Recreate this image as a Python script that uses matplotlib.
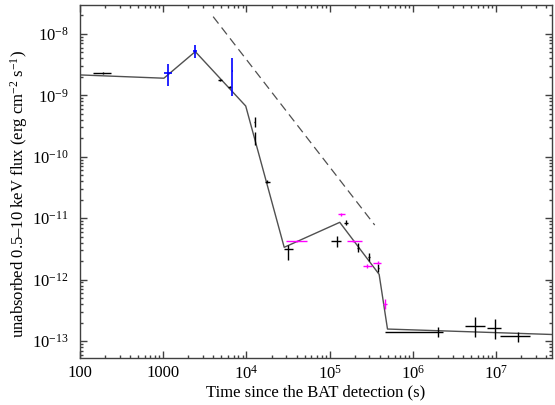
import matplotlib
matplotlib.use("Agg")
import matplotlib.pyplot as plt
import numpy as np
from matplotlib.ticker import FixedLocator, FixedFormatter, LogLocator, NullFormatter

plt.rcParams['font.family'] = 'Liberation Serif'
plt.rcParams['mathtext.fontset'] = 'custom'
plt.rcParams['mathtext.rm'] = 'Liberation Serif'
plt.rcParams['mathtext.it'] = 'Liberation Serif:italic'
plt.rcParams['axes.unicode_minus'] = True

# black points: time, x-err low/high edge, flux, y-err low/high edge
blk_t = [188, 4770, 6300, 12500, 12600, 17700, 31800, 1.21e5, 1.59e5, 2.16e5, 2.98e5, 3.85e5, 2.0e6, 5.6e6, 9.6e6, 1.83e7]
blk_tlo = [145, 4500, 6000, 12400, 12500, 16500, 28100, 1.03e5, 1.5e5, 2.1e5, 2.9e5, 3.75e5, 4.6e5, 4.19e6, 7.7e6, 1.12e7]
blk_thi = [234, 5050, 6600, 12600, 12700, 19000, 36100, 1.36e5, 1.68e5, 2.22e5, 3.06e5, 3.95e5, 2.3e6, 7.28e6, 1.15e7, 2.57e7]
blk_f = [2.29e-9, 1.78e-9, 1.39e-9, 3.73e-10, 1.88e-10, 3.94e-11, 3.11e-12, 4.26e-12, 8.46e-12, 3.31e-12, 2.36e-12, 1.55e-12, 1.4e-13, 1.75e-13, 1.61e-13, 1.2e-13]
blk_flo = [2.2e-9, 1.72e-9, 1.34e-9, 3.09e-10, 1.56e-10, 3.7e-11, 2.09e-12, 3.44e-12, 7.8e-12, 2.84e-12, 2.01e-12, 1.35e-12, 1.17e-13, 1.15e-13, 1.07e-13, 0.98e-13]
blk_fhi = [2.38e-9, 1.84e-9, 1.44e-9, 4.5e-10, 2.56e-10, 4.2e-11, 3.67e-12, 5.13e-12, 9.2e-12, 3.9e-12, 2.74e-12, 1.8e-12, 1.71e-13, 2.43e-13, 2.25e-13, 1.42e-13]

# blue points
blu_t = [1127, 2430, 6780]
blu_tlo = [1010, 2250, 6700]
blu_thi = [1270, 2560, 6860]
blu_f = [2.29e-9, 5.34e-9, 2.52e-9]
blu_flo = [1.44e-9, 4.02e-9, 9.8e-10]
blu_fhi = [3.21e-9, 6.62e-9, 4.02e-9]

# magenta points
mag_t = [40800, 1.36e5, 1.91e5, 2.84e5, 3.82e5, 4.63e5]
mag_tlo = [29500, 1.24e5, 1.6e5, 2.5e5, 3.27e5, 4.4e5]
mag_thi = [53800, 1.53e5, 2.43e5, 3.2e5, 4.18e5, 4.85e5]
mag_f = [4.26e-12, 1.16e-11, 4.26e-12, 1.68e-12, 1.88e-12, 4.0e-13]
mag_flo = [4.1e-12, 1.1e-11, 4.1e-12, 1.55e-12, 1.78e-12, 3.28e-13]
mag_fhi = [4.4e-12, 1.22e-11, 4.4e-12, 1.82e-12, 1.98e-12, 4.77e-13]

# broken power-law model
mod_t = [100, 1020, 2430, 9800, 28400, 1.32e5, 3.92e5, 4.94e5, 4.7e7]
mod_f = [2.15e-9, 1.9e-9, 5.15e-9, 6.7e-10, 3.36e-12, 8.57e-12, 1.22e-12, 1.57e-13, 1.28e-13]

# reference power law (dashed)
ref_t = [3980, 3.47e5]
ref_f = [1.91e-8, 7.74e-12]

xticks = [100, 1000, 1e4, 1e5, 1e6, 1e7]
xlabels = ['100', '1000', '$10^{4}$', '$10^{5}$', '$10^{6}$', '$10^{7}$']
yticks = [1e-13, 1e-12, 1e-11, 1e-10, 1e-9, 1e-8]
ylabels = ['$10^{-13}$', '$10^{-12}$', '$10^{-11}$', '$10^{-10}$', '$10^{-9}$', '$10^{-8}$']


def errs(v, lo, hi):
    v = np.array(v)
    return [v - np.array(lo), np.array(hi) - v]


fig = plt.figure(figsize=(5.55, 4.05), dpi=100)
ax = fig.add_axes([0.144, 0.116, 0.851, 0.872])

ax.plot(mod_t, mod_f, color='#505050', lw=1.0, zorder=2)
ax.plot(ref_t, ref_f, color='#505050', lw=0.9, dashes=(7, 4), zorder=2)

ax.errorbar(blk_t, blk_f, xerr=errs(blk_t, blk_tlo, blk_thi), yerr=errs(blk_f, blk_flo, blk_fhi),
            fmt='none', ecolor='black', elinewidth=1.0, capsize=0, zorder=3)
ax.errorbar(mag_t, mag_f, xerr=errs(mag_t, mag_tlo, mag_thi), yerr=errs(mag_f, mag_flo, mag_fhi),
            fmt='none', ecolor='#ff00ff', elinewidth=1.0, capsize=0, zorder=3)
ax.errorbar(blu_t, blu_f, xerr=errs(blu_t, blu_tlo, blu_thi), yerr=errs(blu_f, blu_flo, blu_fhi),
            fmt='none', ecolor='#0000ff', elinewidth=1.2, capsize=0, zorder=4)

ax.set_xscale('log')
ax.set_yscale('log')
ax.set_xlim(100, 4.7e7)
ax.set_ylim(5.3e-14, 2.97e-8)

ax.xaxis.set_major_locator(FixedLocator(xticks))
ax.xaxis.set_major_formatter(FixedFormatter(xlabels))
ax.yaxis.set_major_locator(FixedLocator(yticks))
ax.yaxis.set_major_formatter(FixedFormatter(ylabels))
ax.xaxis.set_minor_locator(LogLocator(base=10, subs=np.arange(2, 10), numticks=20))
ax.yaxis.set_minor_locator(LogLocator(base=10, subs=np.arange(2, 10), numticks=20))
ax.xaxis.set_minor_formatter(NullFormatter())
ax.yaxis.set_minor_formatter(NullFormatter())

ax.tick_params(which='both', direction='in', top=True, right=True, color='#404040', width=1.0)
ax.tick_params(which='major', length=5, labelsize=12)
ax.tick_params(which='minor', length=2.5)
ax.tick_params(axis='x', pad=5)
ax.tick_params(axis='y', pad=8)
for s in ax.spines.values():
    s.set_color('#404040')
    s.set_linewidth(1.0)

ax.set_xlabel('Time since the BAT detection (s)', fontsize=12, labelpad=1)
ax.set_ylabel('unabsorbed 0.5\u201310 keV flux (erg cm$^{-2}$ s$^{-1}$)', fontsize=12)
ax.yaxis.set_label_coords(-0.106, 0.465)

fig.savefig('out.png', dpi=100)
